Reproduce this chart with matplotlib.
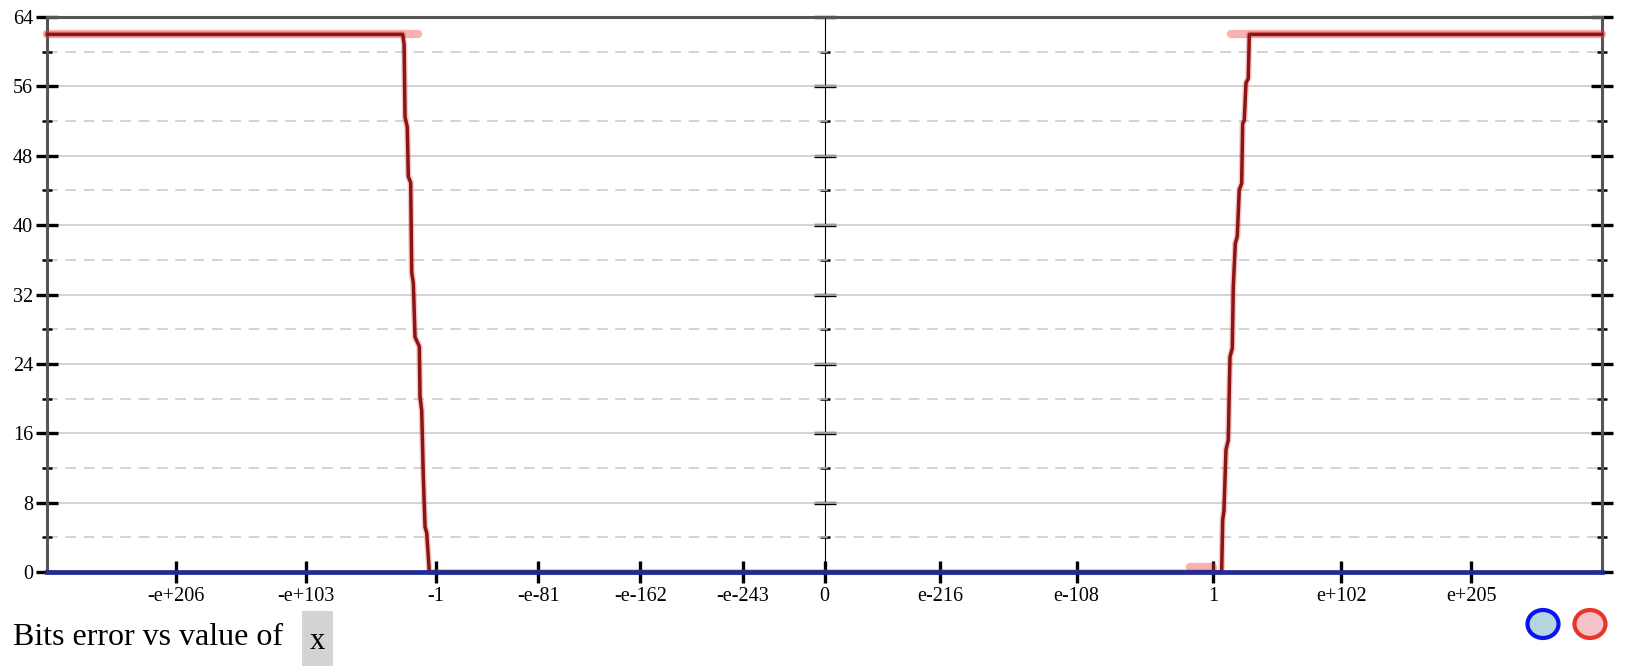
import numpy as np
import matplotlib
matplotlib.use('Agg')
import matplotlib.pyplot as plt
from matplotlib.patches import Ellipse, Rectangle

plt.rcParams['font.family'] = ['Liberation Serif', 'DejaVu Serif']

xmax = 1.7976931348623157e308

# x tick values (real doubles) and their labels
tick_vals = [-1e206, -1e103, -1.0, -1e-81, -1e-162, -1e-243, 0.0,
             1e-216, 1e-108, 1.0, 1e102, 1e205]
tick_labels = ['-e+206', '-e+103', '-1', '-e-81', '-e-162', '-e-243', '0',
               'e-216', 'e-108', '1', 'e+102', 'e+205']

# dark red line: bits of error vs x
red_x = [-xmax, -3.1e26, -2.5e25, -4.8e24, -7.6e22, -1.2e22, -1.5e20, -2.3e19,
         -1.2e18, -5.8e16, -2.2e13, -6.2e12, -2.7e11, -1.5e10, -6.6e8, -2.9e7,
         -2.6e5,
         1.0e7, 6.2e7, 6.6e8, 2.6e10, 1.7e12, 3.8e13, 2.6e15, 1.6e16, 6.3e17,
         2.4e19, 9.0e20, 7.0e22, 4.5e23, 8.4e24, 1.9e26, 1.2e28, 7.9e28, xmax]
red_y = [62, 62, 60.8, 52.5, 51.3, 45.6, 44.9, 34.5,
         33.3, 27.1, 26, 20.2, 18.6, 11, 5.2, 4.5,
         0,
         0, 6, 7.1, 14.1, 15.2, 24.8, 25.8, 32.9, 37.9,
         38.7, 44.1, 44.8, 51.7, 52.1, 56.4, 56.9, 62, 62]

# pale red samples (runs of equal error)
red_band_lo = [-xmax, 1.7e-18, 1.4e14]
red_band_hi = [-1.4e14, 2.0, xmax]
red_band_y = [62, 0.6, 62]

# blue line: bits of error vs x
blue_x = [-xmax, xmax]
blue_y = [0, 0]


def pos(v):
    # place doubles by their ordered bit pattern (units of one binade)
    v = np.asarray(v, dtype=np.float64)
    return np.sign(v) * np.abs(v).view(np.int64) / 2.0**52


W, H = 1632, 672
fig = plt.figure(figsize=(W / 100, H / 100), dpi=100)
ax = fig.add_axes([47 / W, 100 / H, 1555 / W, 555 / H])
ax.set_xlim(-2048, 2048)
ax.set_ylim(0, 64)

for lo, hi, y in zip(red_band_lo, red_band_hi, red_band_y):
    ax.plot(pos([lo, hi]), [y, y], color='#f03c3c', alpha=0.4, lw=6,
            solid_capstyle='round', clip_on=False, zorder=3)
ax.plot(pos(red_x), red_y, color='#e04040', alpha=0.3, lw=4.5, clip_on=False, zorder=4)
ax.plot(pos(red_x), red_y, color='#8b1414', lw=2.5, clip_on=False, zorder=4)
ax.plot(pos(blue_x), blue_y, color='#1f2c94', lw=3.4, clip_on=False, zorder=5)

# axes styling
for s in ['left', 'right', 'top']:
    ax.spines[s].set_color('#555555')
    ax.spines[s].set_linewidth(2.2)
ax.spines['bottom'].set_visible(False)

ax.set_yticks(range(0, 65, 8))
ax.set_yticks(range(4, 64, 8), minor=True)
ax.tick_params(axis='y', which='major', direction='inout', length=16, width=2.4,
               color='black', left=True, right=True, labelsize=14.5, pad=2)
ax.tick_params(axis='y', which='minor', direction='inout', length=7.5, width=1.8,
               color='black', left=True, right=True)

ax.set_xticks(pos(tick_vals), tick_labels)
ax.tick_params(axis='x', which='major', direction='inout', length=16, width=2.4,
               color='black', labelsize=14.5, pad=3)

ax.grid(axis='y', which='major', color='#c8c8c8', lw=1.1)
ax.grid(axis='y', which='minor', color='#c8c8c8', lw=1.1, linestyle=(0, (7, 5)))
ax.set_axisbelow(True)

# middle axis at x = 0
sec = ax.secondary_yaxis(0.5)
sec.spines['left'].set_color('black')
sec.spines['left'].set_linewidth(1.6)
sec.set_yticks(range(0, 65, 8))
sec.set_yticks(range(4, 64, 8), minor=True)
sec.tick_params(which='major', direction='inout', length=16, width=2.4,
                labelleft=False, labelright=False)
sec.tick_params(which='minor', direction='inout', length=7.5, width=1.8,
                labelleft=False, labelright=False)

# caption
fig.text(13 / W, 27 / H, 'Bits error vs value of', fontsize=23,
         ha='left', va='baseline')
fig.add_artist(Rectangle((302 / W, 6 / H), 31 / W, 55 / H,
                         transform=fig.transFigure, color='#d3d3d3', lw=0))
fig.text(317.5 / W, 23 / H, 'x', fontsize=22, ha='center', va='baseline')

# series toggles
for cx, fc, ec in [(1543, '#b5d5df', '#0a14f0'), (1590, '#f4c2c8', '#e8352a')]:
    fig.add_artist(Ellipse((cx / W, 48 / H), 31 / W, 28 / H,
                           transform=fig.transFigure, facecolor=fc,
                           edgecolor=ec, lw=3))

fig.savefig('out.png', dpi=100)
